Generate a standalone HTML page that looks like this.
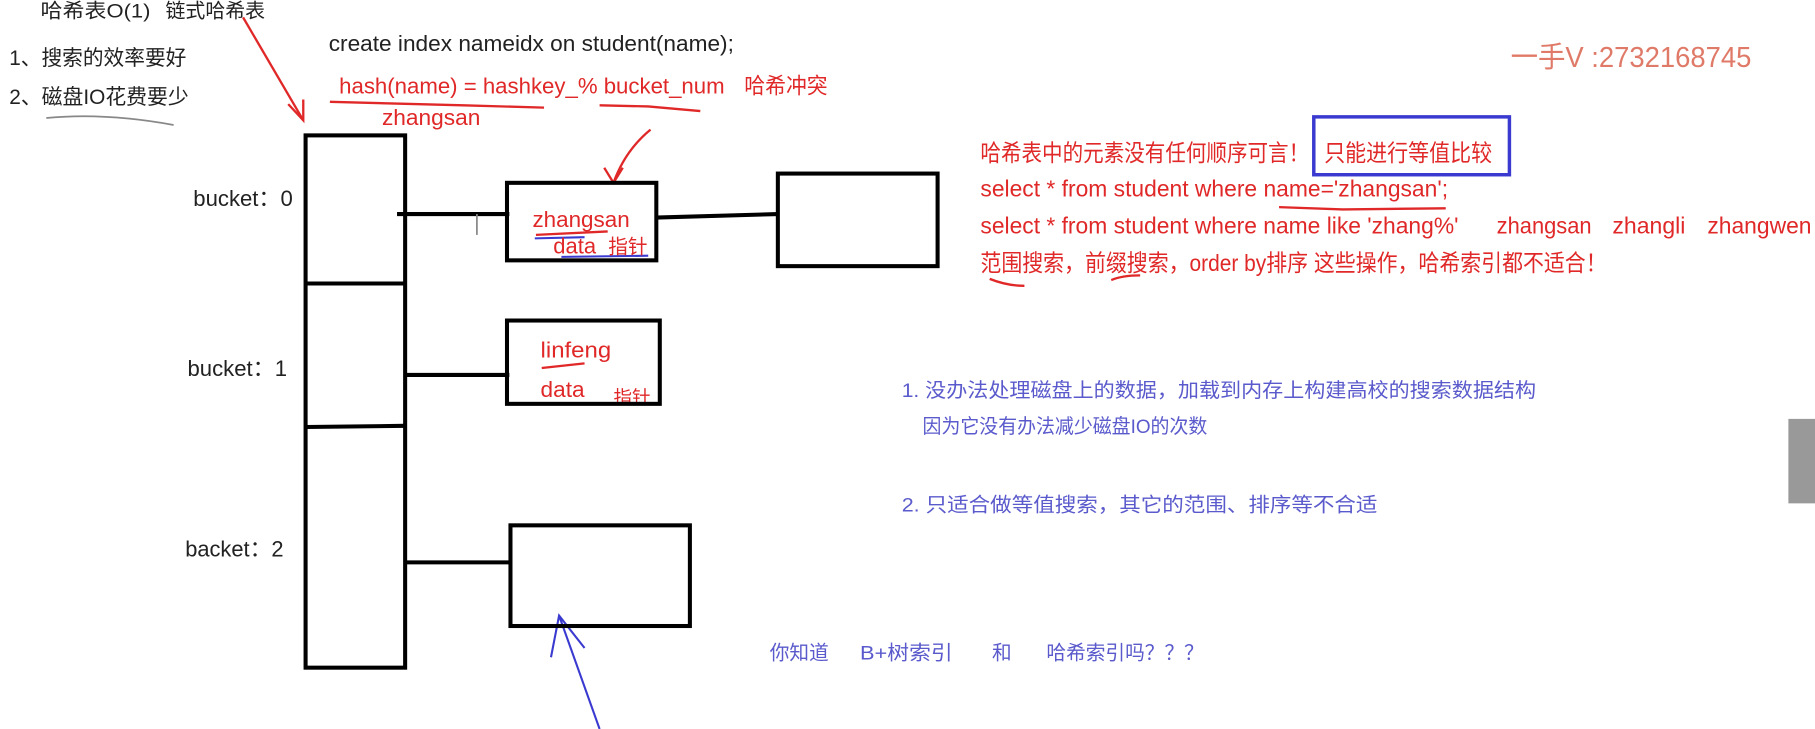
<!DOCTYPE html>
<html><head><meta charset="utf-8"><style>
html,body{margin:0;padding:0;background:#fff;width:1815px;height:729px;overflow:hidden}
svg{display:block}
text{font-family:"Liberation Sans","Noto Sans CJK SC",sans-serif;white-space:pre}
</style></head><body>
<svg width="1815" height="729" viewBox="0 0 1568 630" preserveAspectRatio="none" xml:space="preserve">
<rect width="1568" height="630" fill="#fff"/>
<g font-size="17" fill="#222">
<text x="35" y="15" textLength="95" lengthAdjust="spacingAndGlyphs">哈希表O(1)</text>
<text x="143" y="15" textLength="86" lengthAdjust="spacingAndGlyphs">链式哈希表</text>
<text x="8" y="56" font-size="18" textLength="153" lengthAdjust="spacingAndGlyphs">1、搜索的效率要好</text>
<text x="8" y="90" font-size="18" textLength="155" lengthAdjust="spacingAndGlyphs">2、磁盘IO花费要少</text>
<text x="284" y="44" font-size="19" textLength="350" lengthAdjust="spacingAndGlyphs">create index nameidx on student(name);</text>
<text x="167" y="178" font-size="19" textLength="86" lengthAdjust="spacingAndGlyphs">bucket：0</text>
<text x="162" y="325" font-size="19" textLength="86" lengthAdjust="spacingAndGlyphs">bucket：1</text>
<text x="160" y="481" font-size="19" textLength="85" lengthAdjust="spacingAndGlyphs">backet：2</text>
</g>
<path d="M40 102 Q90 97 150 108" stroke="#888" stroke-width="1.5" fill="none"/>
<g stroke="#e02828" stroke-width="2" fill="none">
<path d="M210 15 L262 104"/><path d="M249 90 L262 104 L262 86"/>
<path d="M285 88 L400 91 L470 93"/><path d="M518 91 L560 92 L605 96"/>
<path d="M562 112 Q540 130 530 158"/><path d="M522 145 L530 158 L538 145"/>
<path d="M1105 179 L1160 181 L1249 180"/><path d="M855 241 Q870 247 885 247"/><path d="M960 242 Q970 238 985 238"/>
<path d="M463 203 L525 200"/><path d="M468 318 L505 314"/>
</g>
<g stroke="#3a3ad0" stroke-width="1.8" fill="none">
<path d="M462 206 L505 205"/><path d="M485 222 L560 221"/>
<path d="M518 630 L483 532"/><path d="M476 568 L483 532 L505 560"/>
</g>
<g fill="#e02828" font-size="19">
<text x="293" y="81" textLength="333" lengthAdjust="spacingAndGlyphs">hash(name) = hashkey_% bucket_num</text>
<text x="643" y="81" textLength="72" lengthAdjust="spacingAndGlyphs">哈希冲突</text>
<text x="330" y="108" textLength="85" lengthAdjust="spacingAndGlyphs">zhangsan</text>
<text x="460" y="196" textLength="84" lengthAdjust="spacingAndGlyphs">zhangsan</text>
<text x="478" y="219">data  <tspan font-size="17">指针</tspan></text>
<text x="467" y="309" textLength="61" lengthAdjust="spacingAndGlyphs">linfeng</text>
<text x="467" y="343" textLength="38" lengthAdjust="spacingAndGlyphs">data</text>
<text x="530" y="349" font-size="16">指针</text>
</g>
<g fill="#e02828" font-size="20">
<text x="847" y="139" textLength="284" lengthAdjust="spacingAndGlyphs">哈希表中的元素没有任何顺序可言！</text>
<text x="1144" y="139" textLength="145" lengthAdjust="spacingAndGlyphs">只能进行等值比较</text>
<text x="847" y="170" textLength="404" lengthAdjust="spacingAndGlyphs">select * from student where name='zhangsan';</text>
<text x="847" y="202" textLength="413" lengthAdjust="spacingAndGlyphs">select * from student where name like 'zhang%'</text>
<text x="1293" y="202" textLength="82" lengthAdjust="spacingAndGlyphs">zhangsan</text>
<text x="1393" y="202" textLength="63" lengthAdjust="spacingAndGlyphs">zhangli</text>
<text x="1475" y="202" textLength="90" lengthAdjust="spacingAndGlyphs">zhangwen</text>
<text x="847" y="234" textLength="541" lengthAdjust="spacingAndGlyphs">范围搜索，前缀搜索，order by排序 这些操作，哈希索引都不适合！</text>
</g>
<text x="1305" y="58" fill="#e07a68" font-size="25" textLength="208" lengthAdjust="spacingAndGlyphs">一手V :2732168745</text>
<rect x="1135" y="101" width="169" height="50" fill="none" stroke="#3a3ad0" stroke-width="3"/>
<g fill="#5a5acc" font-size="17">
<text x="779" y="343" textLength="548" lengthAdjust="spacingAndGlyphs">1. 没办法处理磁盘上的数据，加载到内存上构建高校的搜索数据结构</text>
<text x="797" y="374" textLength="246" lengthAdjust="spacingAndGlyphs">因为它没有办法减少磁盘IO的次数</text>
<text x="779" y="442" textLength="411" lengthAdjust="spacingAndGlyphs">2. 只适合做等值搜索，其它的范围、排序等不合适</text>
<text x="665" y="570">你知道</text>
<text x="743" y="570" textLength="80" lengthAdjust="spacingAndGlyphs">B+树索引</text>
<text x="857" y="570">和</text>
<text x="904" y="570" textLength="136" lengthAdjust="spacingAndGlyphs">哈希索引吗？？？</text>
</g>
<g stroke="#000" stroke-width="3.5" fill="none">
<rect x="264" y="117" width="86" height="460"/>
<path d="M264 245 L350 245"/><path d="M264 369 L350 368"/>
<path d="M343 185 L440 185"/>
<rect x="438" y="158" width="129" height="67"/>
<path d="M567 188 L672 185"/>
<rect x="672" y="150" width="138" height="80"/>
<path d="M350 324 L440 324"/>
<rect x="438" y="277" width="132" height="72"/>
<path d="M350 486 L442 486"/>
<rect x="441" y="454" width="155" height="87"/>
</g>
<path d="M412 185 L412 203" stroke="#888" stroke-width="1.5"/>
<rect x="1545" y="362" width="23" height="73" fill="#999"/>
</svg>
</body></html>
